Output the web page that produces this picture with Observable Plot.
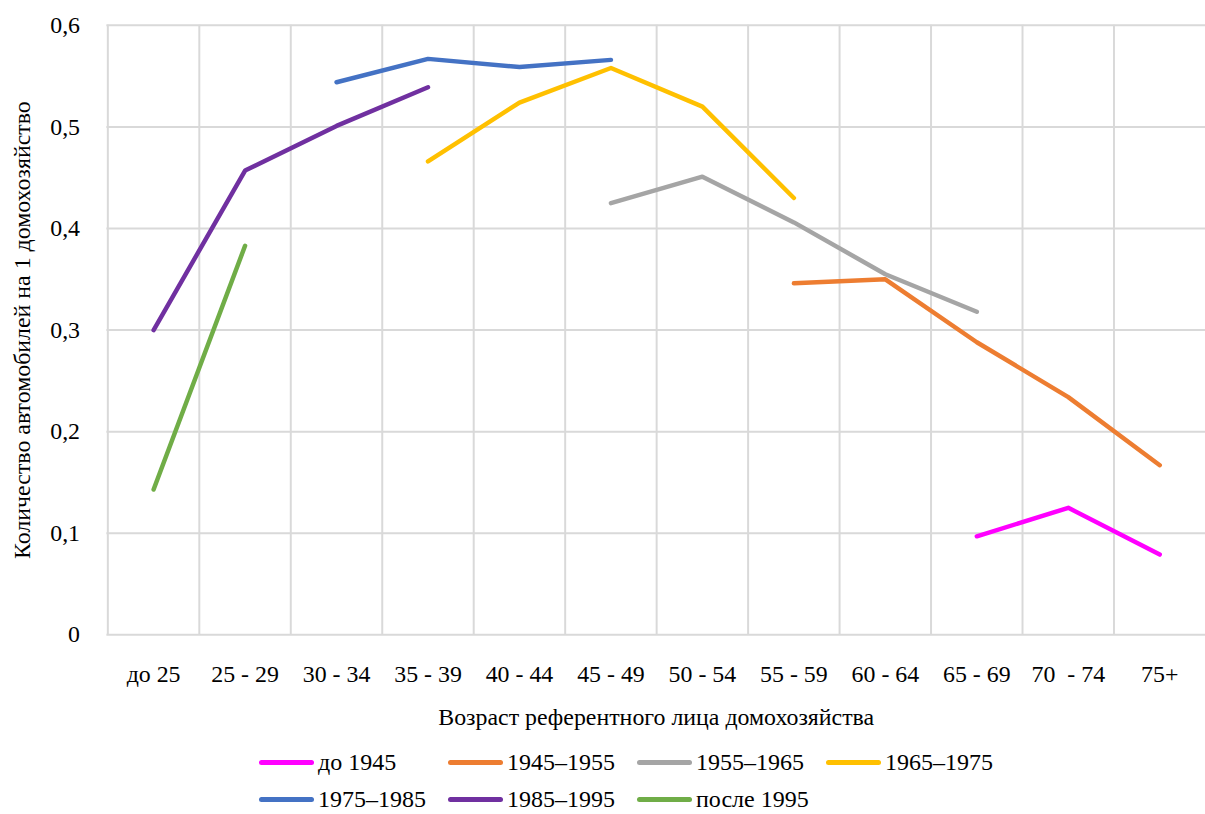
<!DOCTYPE html>
<html><head><meta charset="utf-8">
<script src="https://cdn.jsdelivr.net/npm/d3@7"></script>
<script src="https://cdn.jsdelivr.net/npm/@observablehq/plot@0.6"></script>
<style>
html,body{margin:0;padding:0;background:#fff;overflow:hidden;width:1205px;height:814px;}
#chart{position:relative;width:1205px;height:814px;overflow:hidden;font-family:"Liberation Serif","Times New Roman","DejaVu Serif",serif;}
#chart svg, #chart svg text{font-family:"Liberation Serif","Times New Roman","DejaVu Serif",serif !important;}
.legend{position:absolute;left:259px;font-size:24px;line-height:22px;color:#000;display:flex;}
.item{width:189px;height:22px;display:flex;align-items:center;white-space:nowrap;}
.sw{width:55px;height:5px;border-radius:3px;margin-right:4px;flex:none;}
</style></head>
<body><div id="chart"></div>
<script>
const cats = ["до 25","25 - 29","30 - 34","35 - 39","40 - 44","45 - 49","50 - 54","55 - 59","60 - 64","65 - 69","70 \u00a0- 74","75+"];
const seriesNames = ["до 1945","1945–1955","1955–1965","1965–1975","1975–1985","1985–1995","после 1995"];
const seriesColors = ["#FF00FF","#ED7D31","#A5A5A5","#FFC000","#4472C4","#7030A0","#70AD47"];
const s1945 = [null,null,null,null,null,null,null,null,null,0.097,0.125,0.079];
const s1955 = [null,null,null,null,null,null,null,0.346,0.350,0.288,0.234,0.167];
const s1965 = [null,null,null,null,null,0.425,0.451,0.406,0.355,0.318,null,null];
const s1975 = [null,null,null,0.466,0.524,0.558,0.520,0.430,null,null,null,null];
const s1985 = [null,null,0.544,0.567,0.559,0.566,null,null,null,null,null,null];
const s1995 = [0.300,0.457,0.501,0.539,null,null,null,null,null,null,null,null];
const sAfter = [0.143,0.383,null,null,null,null,null,null,null,null,null,null];
const yTicks = [0,0.1,0.2,0.3,0.4,0.5,0.6];
const allSeries = [s1945,s1955,s1965,s1975,s1985,s1995,sAfter];

const rows = [];
allSeries.forEach((arr,i)=>arr.forEach((v,j)=>{ if(v!=null) rows.push({series:seriesNames[i],cat:cats[j],v}); }));

const W = 1212, H = 740, ML = 107, MR = 0, MT = 25, MB = 102;
const step = (W - ML - MR) / cats.length;
const fmt = d => d === 0 ? "0" : d.toFixed(1).replace(".", ",");
const FF = '"Liberation Serif","Times New Roman","DejaVu Serif",serif';

const plot = Plot.plot({
  width: W, height: H,
  marginLeft: ML, marginRight: MR, marginTop: MT, marginBottom: MB,
  style: {fontFamily: FF, fontSize: "24px", color: "#000", background: "#fff", overflow: "visible"},
  x: {type: "point", domain: cats, padding: 0.5},
  y: {domain: [0, 0.6]},
  color: {domain: seriesNames, range: seriesColors},
  marks: [
    Plot.ruleY(yTicks, {y: d => d, stroke: "#d9d9d9", strokeWidth: 2}),
    Plot.ruleX(cats, {x: d => d, dx: -step/2, stroke: "#d9d9d9", strokeWidth: 2}),
    Plot.axisY(yTicks, {tickSize: 0, tickPadding: 27, tickFormat: fmt, fontSize: 24, label: null}),
    Plot.axisX({tickSize: 0, tickPadding: 30, fontSize: 24, label: null}),
    Plot.text(["Возраст референтного лица домохозяйства"], {frameAnchor: "bottom", dy: 91, text: d => d, fontSize: 24}),
    Plot.text(["Количество автомобилей на 1 домохозяйство"], {frameAnchor: "left", textAnchor: "middle", dx: -85, rotate: -90, text: d => d, fontSize: 24}),
    Plot.line(rows, {x: "cat", y: "v", z: "series", stroke: "series", strokeWidth: 4.5, strokeLinecap: "round", strokeLinejoin: "round"})
  ]
});
const chart = document.getElementById("chart");
chart.appendChild(plot);

const groups = [[0,1,2,3],[4,5,6]];
const tops = [751, 788];
groups.forEach((g,k)=>{
  const row = document.createElement("div");
  row.className = "legend";
  row.style.top = tops[k] + "px";
  g.forEach(i=>{
    const it = document.createElement("div"); it.className="item";
    const sw = document.createElement("div"); sw.className="sw"; sw.style.background = seriesColors[i];
    const tx = document.createElement("span"); tx.textContent = seriesNames[i];
    it.appendChild(sw); it.appendChild(tx); row.appendChild(it);
  });
  chart.appendChild(row);
});
</script></body></html>
